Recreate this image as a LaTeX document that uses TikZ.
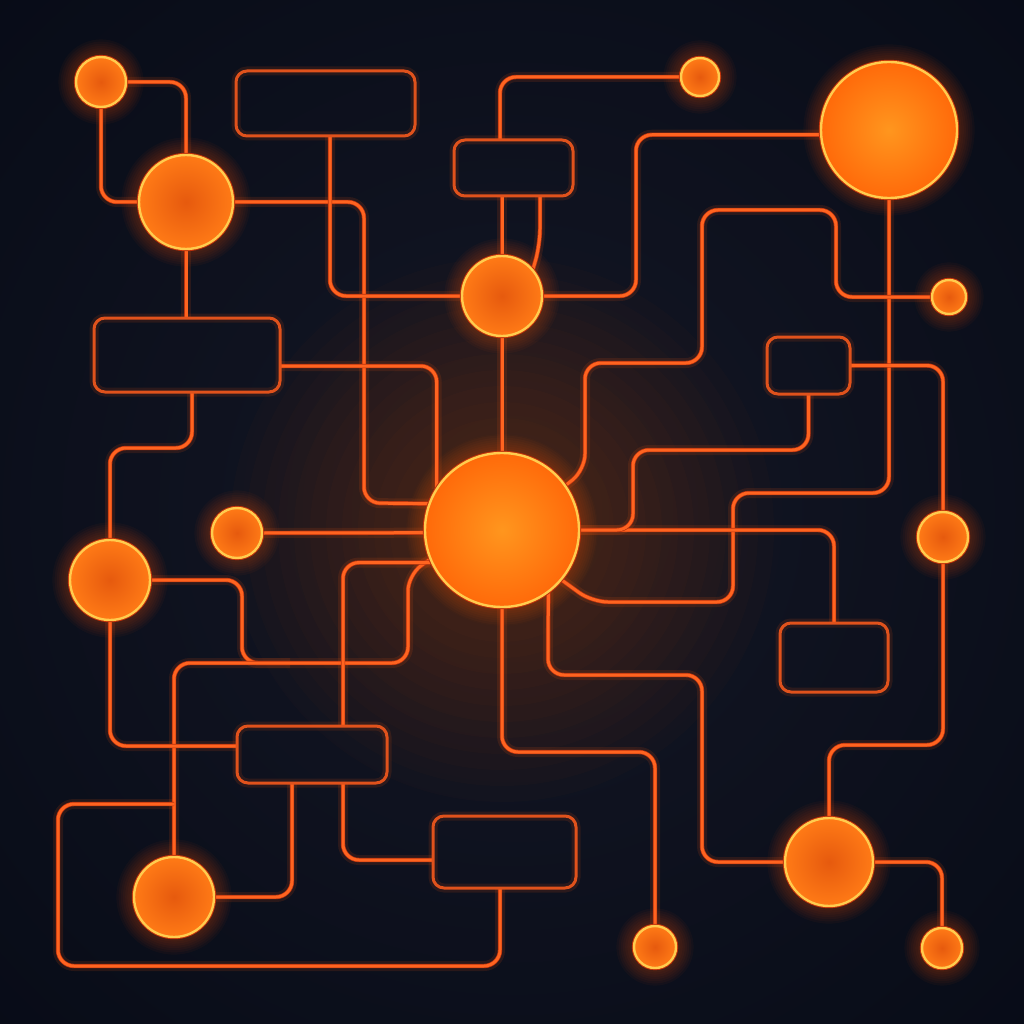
\documentclass[tikz,border=0pt]{standalone}
\usetikzlibrary{calc}
\pgfdeclarelayer{back}
\pgfdeclarelayer{glow}
\pgfdeclarelayer{wires}
\pgfsetlayers{back,glow,wires,main}
\definecolor{bgin}{HTML}{141725}
\definecolor{bgout}{HTML}{050914}
\definecolor{wirec}{HTML}{FF6420}
\definecolor{wireedge}{HTML}{B8320E}
\definecolor{boxc}{HTML}{E0521C}
\definecolor{rimc}{HTML}{FFCC4E}
\definecolor{ringc}{HTML}{C0300A}
\definecolor{glowc}{HTML}{FF5A10}
\definecolor{dotin}{HTML}{E65A0E}
\definecolor{dotout}{HTML}{FF7A16}
\definecolor{hotin}{HTML}{FF961E}
\definecolor{hotout}{HTML}{FF6A0A}
\begin{document}
\begin{tikzpicture}[x=1pt,y=-1pt,
  dot/.style={circle, inner sep=0pt, outer sep=0pt, minimum size=#1pt,
    inner color=dotin, outer color=dotout, draw=rimc, line width=2.4pt,
    preaction={draw=ringc, line width=4.4pt}},
  hot/.style={dot=#1, inner color=hotin, outer color=hotout},
  box/.style n args={2}{rectangle, rounded corners=11pt, draw=boxc, line width=3pt,
    minimum width=#1pt, minimum height=#2pt, inner sep=0pt, outer sep=0pt,
    preaction={draw=glowc, opacity=0.12, line width=9pt}},
  wire/.style={draw=wirec, line width=3pt, rounded corners=16pt,
    preaction={draw=glowc, opacity=0.12, line width=10pt},
    preaction={draw=wireedge, line width=4.4pt}},
]
\useasboundingbox (0,0) rectangle (1024,1024);

% nodes
\node[dot=50]  (c1)  at (101,82)  {};
\node[dot=94]  (c2)  at (186,202) {};
\node[dot=38]  (c3)  at (700,77)  {};
\node[hot=136] (c4)  at (889,130) {};
\node[dot=80]  (c5)  at (502,296) {};
\node[dot=34]  (c6)  at (949,297) {};
\node[hot=154] (c0)  at (502,530) {};
\node[dot=50]  (c8)  at (237,533) {};
\node[dot=80]  (c9)  at (110,580) {};
\node[dot=50]  (c10) at (943,537) {};
\node[dot=80]  (c11) at (174,897) {};
\node[dot=42]  (c12) at (655,947) {};
\node[dot=88]  (c13) at (829,862) {};
\node[dot=40]  (c14) at (942,948) {};

\node[box={179}{65}]  (rA) at (325.5,103.5) {};
\node[box={119}{56}]  (rB) at (513.5,168)   {};
\node[box={186}{74}]  (rC) at (187,355)     {};
\node[box={83}{57}]   (rD) at (808.5,365.5) {};
\node[box={108}{69}]  (rE) at (834,657.5)   {};
\node[box={150}{57}]  (rF) at (312,754.5)   {};
\node[box={143}{72}]  (rG) at (504.5,852)   {};
\coordinate (j1) at (174,804);

\begin{pgfonlayer}{back}
  \begin{scope}
    \clip (0,0) rectangle (1024,1024);
    \shade[inner color=bgin, outer color=bgout] (512,512) circle (900);
  \end{scope}
\end{pgfonlayer}

\begin{pgfonlayer}{glow}
  \foreach \k in {1,...,12} {
    \fill[glowc, opacity=0.02] (c0.center) circle ({80+\k*16});
  }
  \foreach \n/\r in {c1/25,c2/47,c3/19,c4/68,c5/40,c6/17,c0/77,c8/25,c9/40,c10/25,c11/40,c12/21,c13/44,c14/20} {
    \foreach \k in {1,...,8} {
      \fill[glowc, opacity=0.04] (\n.center) circle ({\r+\k*2.2});
    }
  }
\end{pgfonlayer}

\begin{pgfonlayer}{wires}
  \draw[wire] (c1.east) -| (c2.north);
  \draw[wire] (c1.south) |- (c2.west);
  \draw[wire] (c2.east) -- (364,202) -- (364,503) -- (c0.160);
  \draw[wire] ([xshift=4.5pt]rA.south) |- (c5.west);
  \draw[wire] ([xshift=-13.5pt]rB.north) |- (c3.west);
  \draw[wire] (c5.north |- rB.south) -- (c5.north);
  \draw[wire] ([xshift=26.5pt]rB.south) -- (540,245) -- (c5.40);
  \draw[wire] (c5.east) -- (636,296) |- (c4.184);
  \draw[wire] (c5.south) -- (c0.north);
  \draw[wire] (c4.south) -- (889,493) -- (733,493) -- (733,602) -- (592,602) -- (c0.-40);
  \draw[wire] (c0.35) -- (585,470) -- (585,363) -- (702,363) -- (702,210) -- (836,210) |- (c6.west);
  \draw[wire] ([yshift=-11pt]rC.east) -| (c0.148);
  \draw[wire] ([xshift=5pt]rC.south) |- (110,448) -- (c9.north);
  \draw[wire] (c2.south) -- (c2.south |- rC.north);
  \draw[wire] (c8.east) -- (c0.182);
  \draw[wire] (c0.east) -| (rE.north);
  \draw[wire] (rD.south) |- (633,450) |- (c0.east);
  \draw[wire] (rD.east) -| (c10.north);
  \draw[wire] (c10.south) |- (829,745) -- (c13.north);
  \draw[wire] (c0.-53) -- (548,675) -- (702,675) |- (c13.west);
  \draw[wire] (c13.east) -| (c14.north);
  \draw[wire] (c0.south) -- (502,752) -| (c12.north);
  \draw[wire] (c9.east) -| (242,663) -- (290,663);
  \draw[wire] (c11.north) |- (408,663) -- (408,575) -- (c0.202);
  \draw[wire] ([xshift=31pt]rF.north) |- (c0.205);
  \draw[wire] (c9.south) |- ([yshift=8.5pt]rF.west);
  \draw[wire] (c11.east) -| ([xshift=-20pt]rF.south);
  \draw[wire] ([xshift=31pt]rF.south) |- ([yshift=-8pt]rG.west);
  \draw[wire] ([xshift=-4.5pt]rG.south) -- (500,966) -- (58,966) -- (58,804) -- (j1);
\end{pgfonlayer}
\end{tikzpicture}
\end{document}
